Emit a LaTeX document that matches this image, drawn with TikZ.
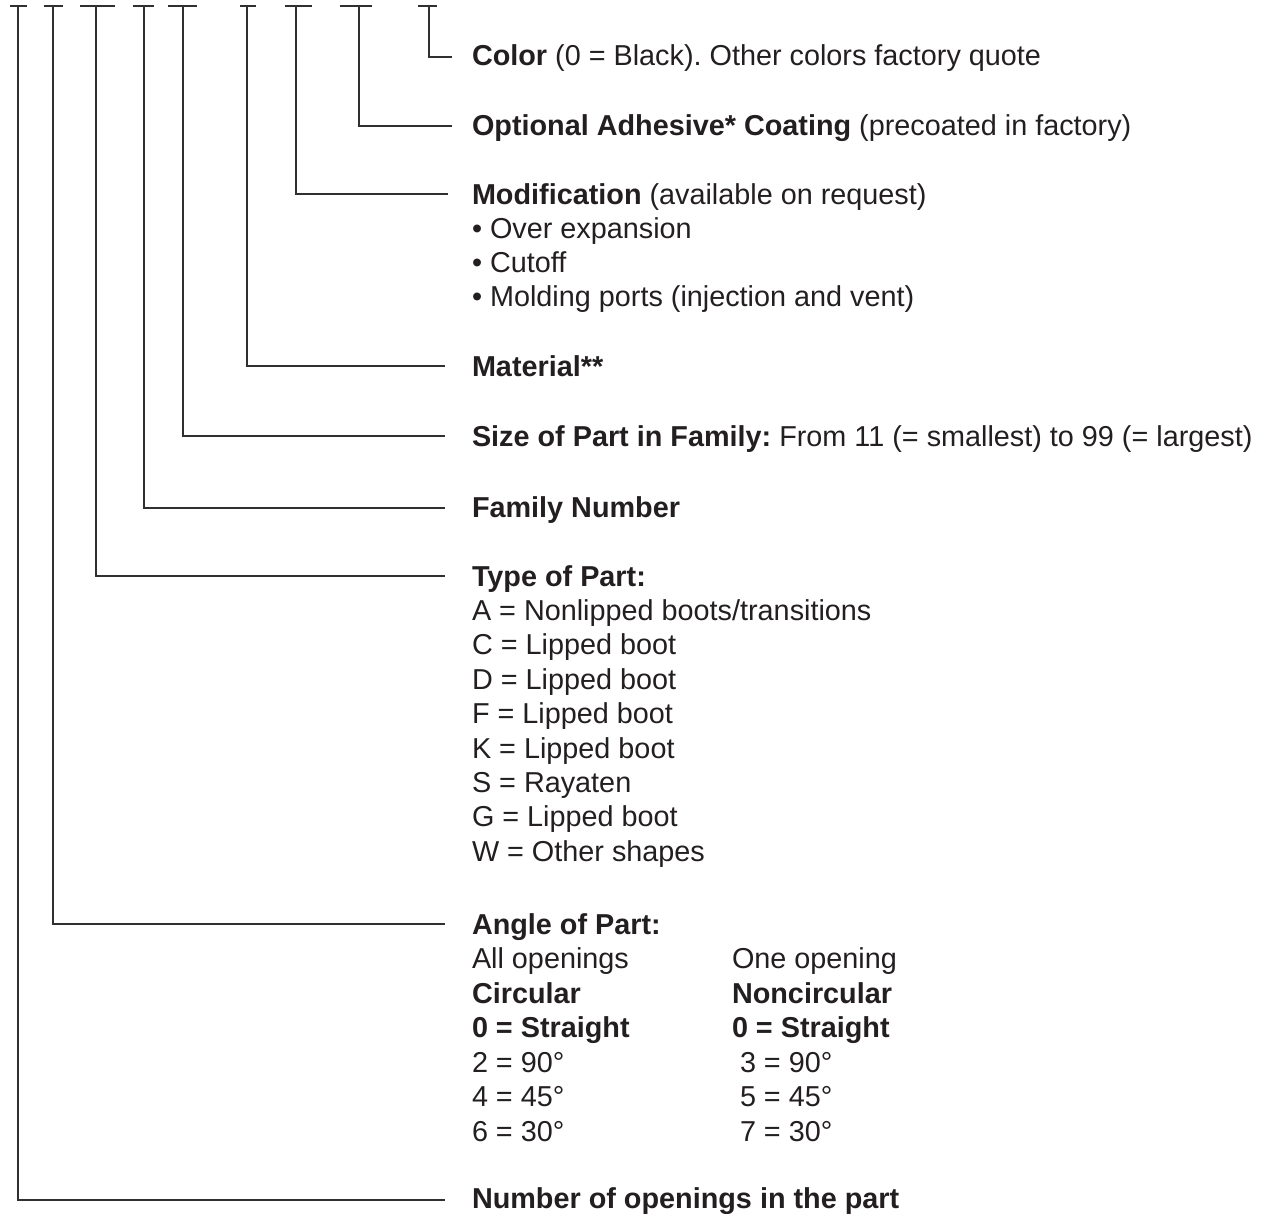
\documentclass[tikz,border=0pt]{standalone}
\usepackage{fontspec}
\setmainfont{Liberation Sans}
\definecolor{txt}{HTML}{231F20}
\definecolor{ln}{HTML}{303030}
\begin{document}
\frenchspacing
\begin{tikzpicture}[x=1pt,y=-1pt,
  lbl/.style={anchor=base west,inner sep=0pt,outer sep=0pt,text=txt,font=\fontsize{28.8}{34}\selectfont},
  ldr/.style={draw=ln,line width=1.5pt},
  tickmark/.style={draw=ln,line width=1.5pt}]
\useasboundingbox (0,0) rectangle (1267,1214);
% headings and lists
\node[lbl] (color) at (472,66) {\textbf{Color} (0 = Black). Other colors factory quote};
\node[lbl] (adh) at (472,136) {\textbf{Optional Adhesive* Coating} (precoated in factory)};
\node[lbl] (mod) at (472,205) {\textbf{Modification} (available on request)};
\node[lbl] (mod1) at (472,239) {• Over expansion};
\node[lbl] (mod2) at (472,273) {• Cutoff};
\node[lbl] (mod3) at (472,307) {• Molding ports (injection and vent)};
\node[lbl] (mat) at (472,377) {\textbf{Material**}};
\node[lbl] (size) at (472,447) {\textbf{Size of Part in Family:} From 11 (= smallest) to 99 (= largest)};
\node[lbl] (fam) at (472,518) {\textbf{Family Number}};
\node[lbl] (type) at (472,586) {\textbf{Type of Part:}};
\node[lbl] (ty1) at (472,620.4) {A = Nonlipped boots/transitions};
\node[lbl] (ty2) at (472,654.8) {C = Lipped boot};
\node[lbl] (ty3) at (472,689.2) {D = Lipped boot};
\node[lbl] (ty4) at (472,723.6) {F = Lipped boot};
\node[lbl] (ty5) at (472,758.0) {K = Lipped boot};
\node[lbl] (ty6) at (472,792.4) {S = Rayaten};
\node[lbl] (ty7) at (472,826.8) {G = Lipped boot};
\node[lbl] (ty8) at (472,861.2) {W = Other shapes};
\node[lbl] (angle) at (472,934) {\textbf{Angle of Part:}};
\node[lbl] (a1l) at (472,968.5) {All openings};
\node[lbl] (a2l) at (472,1003) {\textbf{Circular}};
\node[lbl] (a3l) at (472,1037.5) {\textbf{0 = Straight}};
\node[lbl] (a4l) at (472,1072) {2 = 90°};
\node[lbl] (a5l) at (472,1106.5) {4 = 45°};
\node[lbl] (a6l) at (472,1141) {6 = 30°};
\node[lbl] (a1r) at (732,968.5) {One opening};
\node[lbl] (a2r) at (732,1003) {\textbf{Noncircular}};
\node[lbl] (a3r) at (732,1037.5) {\textbf{0 = Straight}};
\node[lbl] (a4r) at (740,1072) {3 = 90°};
\node[lbl] (a5r) at (740,1106.5) {5 = 45°};
\node[lbl] (a6r) at (740,1141) {7 = 30°};
\node[lbl] (num) at (472,1208) {\textbf{Number of openings in the part}};
% top ticks (character places)
\draw[tickmark] (10,6) -- (27,6);
\draw[tickmark] (44,6) -- (63,6);
\draw[tickmark] (80,6) -- (115,6);
\draw[tickmark] (133,6) -- (154,6);
\draw[tickmark] (168,6) -- (197,6);
\draw[tickmark] (240,6) -- (256,6);
\draw[tickmark] (285,6) -- (312,6);
\draw[tickmark] (340,6) -- (372,6);
\draw[tickmark] (418,6) -- (437,6);
% connector coordinates
\coordinate (t1) at (18,6);   \coordinate (e1) at (445,1200);
\coordinate (t2) at (53,6);   \coordinate (e2) at (445,924);
\coordinate (t3) at (96,6);   \coordinate (e3) at (445,576);
\coordinate (t4) at (144,6);  \coordinate (e4) at (445,508);
\coordinate (t5) at (183,6);  \coordinate (e5) at (445,436);
\coordinate (t6) at (247,6);  \coordinate (e6) at (445,366);
\coordinate (t7) at (296,6);  \coordinate (e7) at (448,194);
\coordinate (t8) at (359,6);  \coordinate (e8) at (452,126);
\coordinate (t9) at (429,6);  \coordinate (e9) at (452,57);
\draw[ldr] (t1) |- (e1);
\draw[ldr] (t2) |- (e2);
\draw[ldr] (t3) |- (e3);
\draw[ldr] (t4) |- (e4);
\draw[ldr] (t5) |- (e5);
\draw[ldr] (t6) |- (e6);
\draw[ldr] (t7) |- (e7);
\draw[ldr] (t8) |- (e8);
\draw[ldr] (t9) |- (e9);
\end{tikzpicture}
\end{document}
